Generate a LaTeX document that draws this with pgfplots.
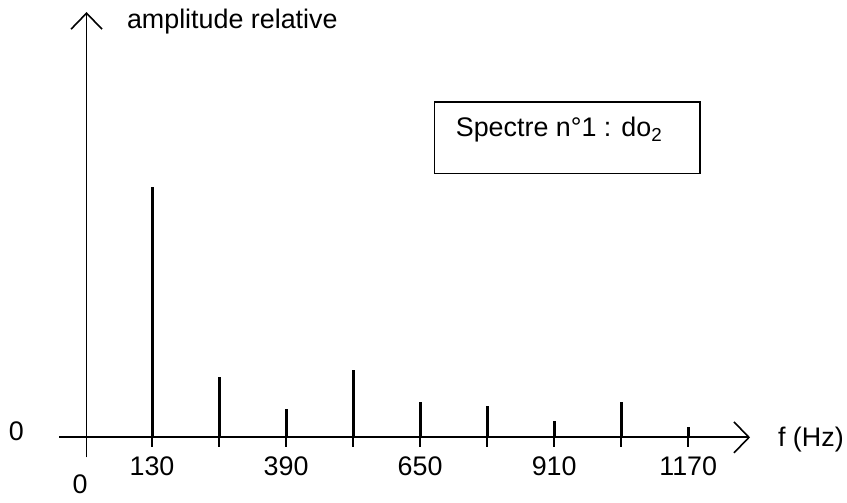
\documentclass[border=0pt]{standalone}
\usepackage{pgfplots}
\pgfplotsset{compat=1.18}
\usepackage{fontspec}
\setmainfont{Liberation Sans}
\usetikzlibrary{arrows.meta}
\begin{document}
\fontsize{27}{32}\selectfont
\begin{tikzpicture}
\begin{axis}[
  scale only axis, width=847bp, height=502bp,
  xmin=-162.5, xmax=1478, ymin=-0.255, ymax=1.745,
  hide axis, clip=false,
]
\path (rel axis cs:0,0) rectangle (rel axis cs:1,1);
% axes
\draw[line width=1.8bp, -{Straight Barb[length=15bp,width=31bp,line width=1.6bp]}]
  (axis cs:-50,0) -- (axis cs:1290,0);
\draw[line width=1.8bp, -{Straight Barb[length=16bp,width=31bp,line width=1.6bp]}]
  (axis cs:3,-0.08) -- (axis cs:3,1.697);
% tick marks below the axis
\addplot[ycomb, black, line width=1.6bp, mark=none] coordinates {
  (130,-0.04) (260,-0.04) (390,-0.04) (520,-0.04) (650,-0.04)
  (780,-0.04) (910,-0.04) (1040,-0.04) (1170,-0.04)};
% spectral lines
\addplot[ycomb, black, line width=3bp, mark=none] coordinates {
  (130,1.000) (260,0.239) (390,0.112) (520,0.267) (650,0.143)
  (780,0.127) (910,0.064) (1040,0.143) (1170,0.040)};
% labels
\node at (axis cs:130,-0.116) {130};
\node at (axis cs:390,-0.116) {390};
\node at (axis cs:650,-0.116) {650};
\node at (axis cs:910,-0.116) {910};
\node at (axis cs:1170,-0.116) {1170};
\node at (axis cs:-9.5,-0.187) {0};
\node at (axis cs:-133,0.024) {0};
\node[anchor=east, inner sep=0pt] at (axis cs:1472,-0.008) {f (Hz)};
\node at (axis cs:285.7,1.657) {amplitude relative};
\draw[line width=1.6bp] (axis cs:678,1.052) rectangle (axis cs:1193,1.339);
\node[anchor=west, inner sep=0pt] at (axis cs:719,1.227) {Spectre n°1 : do\textsubscript{2}};
\end{axis}
\end{tikzpicture}
\end{document}
